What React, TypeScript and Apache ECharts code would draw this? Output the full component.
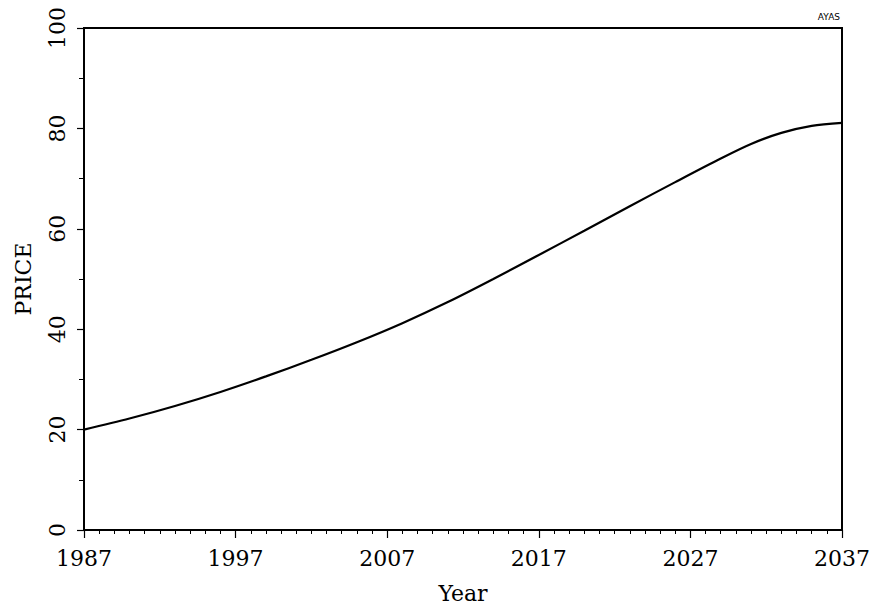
import React, { useEffect, useRef } from "react";
import * as echarts from "echarts";

const years = [1987, 1990, 1993, 1996, 1999, 2002, 2005, 2008, 2011, 2014, 2017, 2020, 2023, 2026, 2029, 2031, 2033, 2035, 2037];
const price = [20, 22.2, 24.7, 27.5, 30.6, 33.9, 37.4, 41.2, 45.4, 50.0, 54.8, 59.6, 64.5, 69.3, 74.0, 76.9, 79.1, 80.5, 81.1];
const xTicks = [1987, 1997, 2007, 2017, 2027, 2037];
const yTicks = [0, 20, 40, 60, 80, 100];
const xName = "Year";
const yName = "PRICE";
const cornerNote = "AYAS";

const FONT = "'DejaVu Serif', 'Liberation Serif', serif";

export default function App() {
  const ref = useRef<HTMLDivElement>(null);
  useEffect(() => {
    if (!ref.current) return;
    const chart = echarts.init(ref.current, undefined, { renderer: "svg" });
    const data = years.map((y, i) => [y, price[i]]);
    chart.setOption({
      animation: false,
      backgroundColor: "#ffffff",
      grid: {
        left: 84,
        right: 33,
        top: 28,
        bottom: 80,
        show: true,
        borderColor: "#000",
        borderWidth: 2,
        backgroundColor: "transparent",
      },
      graphic: [
        {
          type: "text",
          right: 35,
          top: 12,
          style: { text: cornerNote, fontSize: 9, fill: "#000", fontFamily: "'DejaVu Sans', sans-serif" },
        },
      ],
      xAxis: {
        type: "value",
        min: xTicks[0],
        max: xTicks[xTicks.length - 1],
        interval: 10,
        name: xName,
        nameLocation: "middle",
        nameGap: 52,
        nameTextStyle: { fontFamily: FONT, fontSize: 22, color: "#000" },
        axisLine: { show: true, lineStyle: { color: "#000", width: 2 } },
        axisTick: { show: true, inside: false, length: 8, lineStyle: { color: "#000", width: 1.2 } },
        minorTick: { show: true, splitNumber: 10, length: 4, lineStyle: { color: "#000", width: 1 } },
        splitLine: { show: false },
        minorSplitLine: { show: false },
        axisLabel: {
          margin: 17,
          fontFamily: FONT,
          fontSize: 22,
          color: "#000",
          formatter: (v: number) => String(v),
        },
      },
      yAxis: {
        type: "value",
        min: yTicks[0],
        max: yTicks[yTicks.length - 1],
        interval: 20,
        name: yName,
        nameLocation: "middle",
        nameGap: 50,
        nameRotate: 90,
        nameTextStyle: { fontFamily: FONT, fontSize: 22, color: "#000" },
        axisLine: { show: true, lineStyle: { color: "#000", width: 2 } },
        axisTick: { show: true, inside: false, length: 7, lineStyle: { color: "#000", width: 1.2 } },
        minorTick: { show: true, splitNumber: 2, length: 5, lineStyle: { color: "#000", width: 1 } },
        splitLine: { show: false },
        minorSplitLine: { show: false },
        axisLabel: {
          rotate: 90,
          margin: 16,
          fontFamily: FONT,
          fontSize: 22,
          color: "#000",
        },
      },
      series: [
        {
          type: "line",
          data,
          smooth: 0.3,
          showSymbol: false,
          symbol: "none",
          lineStyle: { color: "#000", width: 2.2 },
        },
      ],
    });
    return () => chart.dispose();
  }, []);
  return (
    <div
      ref={ref}
      style={{ position: "fixed", left: 0, top: 0, width: 875, height: 610, background: "#fff" }}
    />
  );
}
